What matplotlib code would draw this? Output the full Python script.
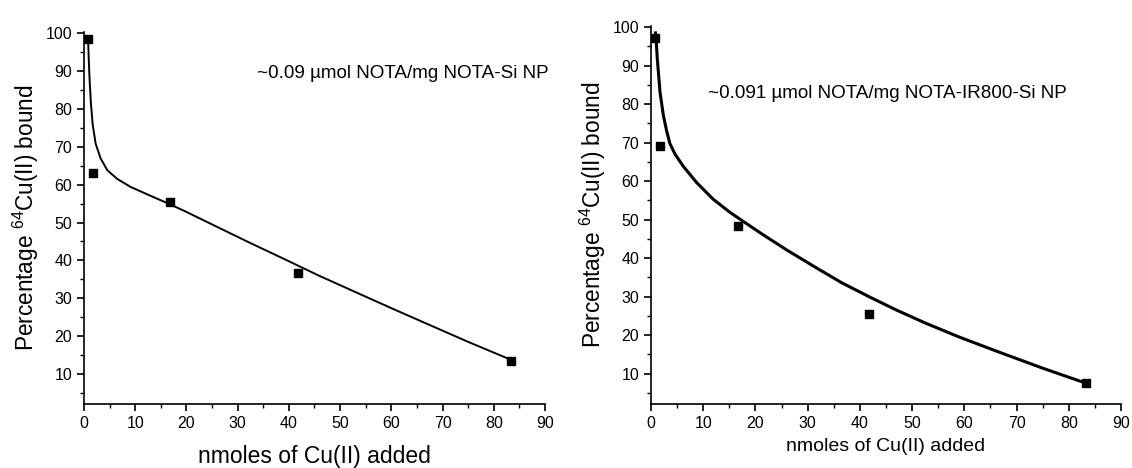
import matplotlib.pyplot as plt
from matplotlib.ticker import MultipleLocator

plt.rcParams['font.family'] = ['Liberation Sans', 'DejaVu Sans']

# measured points (nmol Cu(II) added, % bound)
x_pts = [0.83, 1.67, 16.7, 41.7, 83.3]
y_si = [98.5, 63.0, 55.5, 36.7, 13.5]
y_ir = [97.3, 69.2, 48.3, 25.5, 7.5]

# fitted curves
fit_x_si = [0.8, 0.92, 1.1, 1.35, 1.7, 2.28, 3.25, 4.55, 6.5, 9.1, 12.4, 16.3, 20.0, 25.6,
            32.0, 39.5, 46.0, 53.4, 60.0, 67.4, 75.0, 83.3]
fit_y_si = [98.3, 93.5, 87.5, 81.5, 75.8, 70.8, 66.9, 63.8, 61.5, 59.4, 57.4, 55.1, 52.8, 49.1,
            44.9, 40.1, 35.9, 31.4, 27.4, 23.0, 18.5, 13.8]
fit_x_ir = [0.85, 0.96, 1.2, 1.72, 2.36, 3.0, 3.6, 4.6, 6.2, 8.75, 11.9, 15.1, 17.7, 21.2,
            26.0, 31.5, 36.5, 42.0, 47.0, 52.4, 59.0, 66.4, 75.0, 83.3]
fit_y_ir = [98.5, 97.3, 91.8, 83.2, 77.1, 73.0, 69.8, 67.0, 63.8, 59.6, 55.3, 51.9, 49.5, 46.3,
            42.1, 37.6, 33.6, 29.8, 26.5, 23.2, 19.5, 15.7, 11.4, 7.5]

fig = plt.figure(figsize=(11.32, 4.68), dpi=100)
ax1 = fig.add_axes([0.0742, 0.1368, 0.4072, 0.7949])
ax2 = fig.add_axes([0.5751, 0.1368, 0.4152, 0.8077])

panels = [
    (ax1, fit_x_si, fit_y_si, y_si, 1.4, '~0.09 µmol NOTA/mg NOTA-Si NP', (257, 73), 16.5, 10),
    (ax2, fit_x_ir, fit_y_ir, y_ir, 2.2, '~0.091 µmol NOTA/mg NOTA-IR800-Si NP', (708, 93), 14, 5),
]

for ax, fx, fy, yp, lw, note, pos, xl_size, xl_pad in panels:
    ax.plot(fx, fy, color='black', linewidth=lw, zorder=2, solid_joinstyle='round')
    ax.plot(x_pts, yp, linestyle='none', marker='s', markersize=6, color='black', zorder=3)
    ax.set_xlim(0, 90)
    ax.set_ylim(2.1, 100.3)
    ax.xaxis.set_major_locator(MultipleLocator(10))
    ax.xaxis.set_minor_locator(MultipleLocator(5))
    ax.yaxis.set_major_locator(MultipleLocator(10))
    ax.yaxis.set_minor_locator(MultipleLocator(5))
    ax.set_yticks(range(10, 101, 10))
    ax.spines['top'].set_visible(False)
    ax.spines['right'].set_visible(False)
    for s in ['left', 'bottom']:
        ax.spines[s].set_linewidth(1.2)
    ax.tick_params(which='major', direction='out', length=5, width=1.2, labelsize=11.5)
    ax.tick_params(which='minor', direction='out', length=3, width=1.0)
    ax.set_ylabel('Percentage $\\mathregular{^{64}}$Cu(II) bound', fontsize=16.3, labelpad=3)
    ax.set_xlabel('nmoles of Cu(II) added', fontsize=xl_size, labelpad=xl_pad)
    fig.text(pos[0] / 1132, 1 - pos[1] / 468, note, fontsize=13.6, ha='left', va='center')

fig.savefig('out.png', dpi=100)
